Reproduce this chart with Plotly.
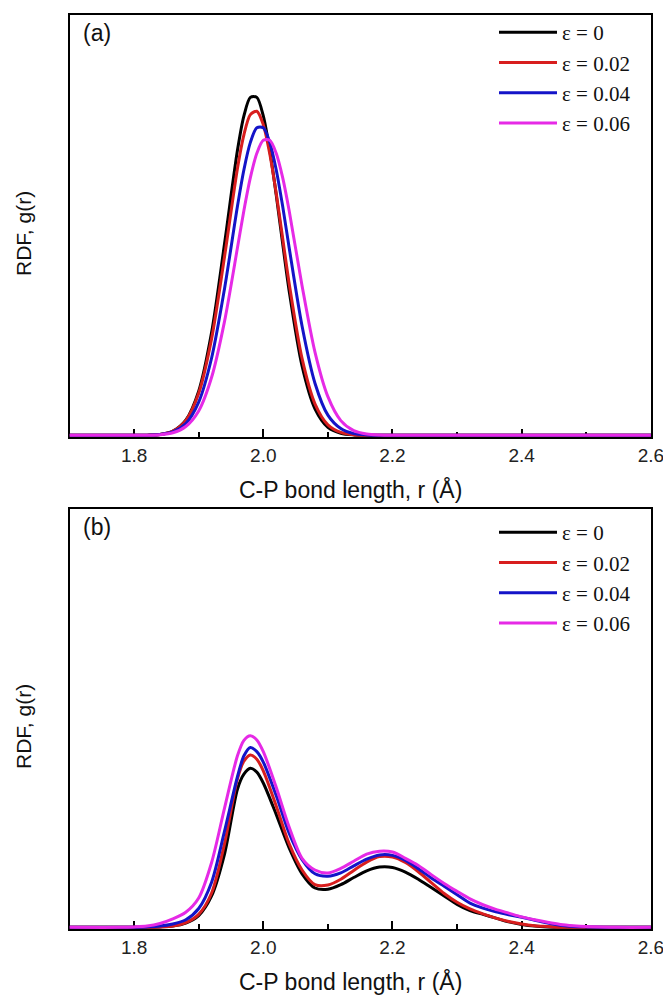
import plotly.graph_objects as go

# ---------------- data ----------------
series_names = ["ε = 0", "ε = 0.02", "ε = 0.04", "ε = 0.06"]
series_colors = ["#000000", "#d81e1e", "#1414c8", "#e62ae6"]

# panel (a)
r_a = [1.70, 1.82, 1.84, 1.86, 1.88, 1.90, 1.92, 1.94, 1.96, 1.97, 1.98, 1.99,
       2.00, 2.01, 2.02, 2.03, 2.04, 2.06, 2.08, 2.10, 2.12, 2.14, 2.16, 2.18,
       2.20, 2.22, 2.60]
g_a_eps0 = [0, 0.0004, 0.002, 0.010, 0.036, 0.105, 0.245, 0.456, 0.678, 0.760,
            0.804, 0.804, 0.760, 0.678, 0.572, 0.456, 0.344, 0.165, 0.063, 0.019,
            0.005, 0.001, 0.0001, 0, 0, 0, 0]
g_a_eps002 = [0, 0.0004, 0.002, 0.010, 0.035, 0.100, 0.230, 0.425, 0.635, 0.715,
              0.763, 0.771, 0.739, 0.670, 0.576, 0.469, 0.362, 0.183, 0.075, 0.025,
              0.007, 0.0014, 0.0002, 0, 0, 0, 0]
g_a_eps004 = [0, 0.0004, 0.002, 0.008, 0.028, 0.079, 0.184, 0.349, 0.545, 0.632,
              0.697, 0.732, 0.732, 0.697, 0.632, 0.545, 0.447, 0.260, 0.124, 0.048,
              0.016, 0.004, 0.0009, 0.0002, 0, 0, 0]
g_a_eps006 = [0, 0.0003, 0.0015, 0.006, 0.021, 0.058, 0.138, 0.271, 0.446, 0.535,
              0.613, 0.671, 0.702, 0.702, 0.671, 0.613, 0.535, 0.356, 0.198, 0.092,
              0.035, 0.011, 0.003, 0.0007, 0.0001, 0, 0]

# panel (b)
r_b = [1.70, 1.78, 1.80, 1.82, 1.84, 1.86, 1.88, 1.90, 1.92, 1.94, 1.96, 1.97,
       1.98, 1.99, 2.00, 2.02, 2.04, 2.06, 2.08, 2.10, 2.12, 2.14, 2.16, 2.18,
       2.20, 2.22, 2.24, 2.26, 2.28, 2.30, 2.32, 2.34, 2.36, 2.38, 2.40, 2.42,
       2.44, 2.46, 2.48, 2.50, 2.55, 2.60]
g_b_eps0 = [0, 0, 0, 0, 0.001, 0.003, 0.010, 0.028, 0.075, 0.175, 0.330, 0.366,
            0.380, 0.371, 0.345, 0.270, 0.190, 0.128, 0.094, 0.091, 0.102, 0.119,
            0.135, 0.144, 0.143, 0.132, 0.115, 0.095, 0.075, 0.055, 0.040, 0.031,
            0.022, 0.013, 0.007, 0.003, 0.001, 0, 0, 0, 0, 0]
g_b_eps002 = [0, 0, 0, 0, 0.001, 0.003, 0.011, 0.031, 0.082, 0.200, 0.355, 0.397,
              0.412, 0.402, 0.374, 0.290, 0.200, 0.137, 0.102, 0.101, 0.115, 0.136,
              0.156, 0.169, 0.168, 0.155, 0.133, 0.107, 0.081, 0.060, 0.044, 0.032,
              0.022, 0.014, 0.008, 0.004, 0.002, 0, 0, 0, 0, 0]
g_b_eps004 = [0, 0, 0, 0.001, 0.003, 0.008, 0.018, 0.045, 0.108, 0.230, 0.360, 0.410,
              0.430, 0.420, 0.395, 0.315, 0.225, 0.162, 0.128, 0.122, 0.130, 0.147,
              0.163, 0.173, 0.172, 0.160, 0.140, 0.118, 0.098, 0.078, 0.058, 0.046,
              0.037, 0.030, 0.024, 0.017, 0.010, 0.005, 0.002, 0.001, 0, 0]
g_b_eps006 = [0, 0, 0.001, 0.003, 0.009, 0.020, 0.036, 0.070, 0.155, 0.285, 0.410, 0.447,
              0.458, 0.448, 0.420, 0.335, 0.240, 0.165, 0.137, 0.130, 0.141, 0.158,
              0.175, 0.182, 0.180, 0.165, 0.148, 0.126, 0.105, 0.086, 0.068, 0.054,
              0.043, 0.034, 0.025, 0.018, 0.012, 0.007, 0.004, 0.002, 0, 0]

x_tick_vals = [1.8, 2.0, 2.2, 2.4, 2.6]
x_tick_text = ["1.8", "2.0", "2.2", "2.4", "2.6"]
x_minor_vals = [1.9, 2.1, 2.3, 2.5]
x_title = "C-P bond length, r (Å)"
y_title = "RDF, g(r)"
panel_labels = ["(a)", "(b)"]

# ---------------- layout helpers ----------------
W, H = 663, 995
def px(x):
    return x / W
def py(y):
    return 1 - y / H

SANS = "Liberation Sans, Arial, sans-serif"
SERIF = "Liberation Serif, Times New Roman, serif"

fig = go.Figure()
panels = [
    (r_a, [g_a_eps0, g_a_eps002, g_a_eps004, g_a_eps006], "x", "y", "legend"),
    (r_b, [g_b_eps0, g_b_eps002, g_b_eps004, g_b_eps006], "x2", "y2", "legend2"),
]
for r, ys, xa, ya, lg in panels:
    for name, col, g in zip(series_names, series_colors, ys):
        fig.add_trace(go.Scatter(
            x=r, y=g, mode="lines", name=name, xaxis=xa, yaxis=ya, legend=lg,
            line=dict(color=col, width=3, shape="spline", smoothing=0.8),
            hoverinfo="skip"))

# panel pixel boxes
LEFT, RIGHT = 69.5, 651
TOP_A, BOT_A = 15, 437
TOP_B, BOT_B = 509, 929

def xaxis_cfg():
    return dict(
        range=[1.7, 2.6002], domain=[px(LEFT), px(RIGHT)],
        tickmode="array", tickvals=x_tick_vals, ticktext=x_tick_text,
        ticks="inside", ticklen=8, tickwidth=1.5, tickcolor="#000",
        minor=dict(tickmode="array", tickvals=x_minor_vals, ticks="inside",
                   ticklen=5, tickwidth=1.5, tickcolor="#000"),
        showline=True, linecolor="#000", linewidth=1.5, mirror=True,
        showgrid=False, zeroline=False, layer="below traces",
        automargin=False, ticklabeloverflow="allow",
        tickfont=dict(family=SANS, size=19, color="#222"),
    )

def yaxis_cfg(top, bot):
    return dict(
        range=[-0.004, 1.0], domain=[py(bot), py(top)],
        showticklabels=False, ticks="", showline=True, linecolor="#000",
        linewidth=1.5, mirror=True, showgrid=False, zeroline=False,
        layer="below traces", automargin=False,
    )

xa2 = xaxis_cfg(); xa2["anchor"] = "y2"
ya2 = yaxis_cfg(TOP_B, BOT_B); ya2["anchor"] = "x2"
xa1 = xaxis_cfg(); xa1["anchor"] = "y"
ya1 = yaxis_cfg(TOP_A, BOT_A); ya1["anchor"] = "x"

legend_common = dict(
    xanchor="left", yanchor="top", bgcolor="rgba(0,0,0,0)",
    font=dict(family=SERIF, size=21, color="#111"),
    itemwidth=58, tracegroupgap=0, traceorder="normal",
)

fig.update_layout(
    width=W, height=H, margin=dict(l=0, r=0, t=0, b=0, autoexpand=False),
    paper_bgcolor="white", plot_bgcolor="white",
    xaxis=xa1, yaxis=ya1, xaxis2=xa2, yaxis2=ya2,
    legend=dict(x=px(494), y=py(12), **legend_common),
    legend2=dict(x=px(494), y=py(512), **legend_common),
    showlegend=True,
)

annots = []
for lab, ytop, ybot in [(panel_labels[0], TOP_A, BOT_A), (panel_labels[1], TOP_B, BOT_B)]:
    annots.append(dict(text=lab, x=px(97), y=py(ytop + 18), xref="paper", yref="paper",
                       showarrow=False, xanchor="center", yanchor="middle",
                       font=dict(family=SANS, size=23, color="#111")))
    annots.append(dict(text=y_title, x=px(23), y=py((ytop + ybot) / 2 + 8), xref="paper",
                       yref="paper", showarrow=False, textangle=-90,
                       xanchor="center", yanchor="middle",
                       font=dict(family=SANS, size=21, color="#111")))
    annots.append(dict(text=x_title, x=px((LEFT + RIGHT) / 2 - 10), y=py(ybot + 52),
                       xref="paper", yref="paper", showarrow=False,
                       xanchor="center", yanchor="middle",
                       font=dict(family=SANS, size=23, color="#111")))
fig.update_layout(annotations=annots)

fig.write_html(
    "out.html", config={"displayModeBar": False},
    post_script=("document.body.style.margin='0';"
                 "document.body.style.overflow='hidden';"))
